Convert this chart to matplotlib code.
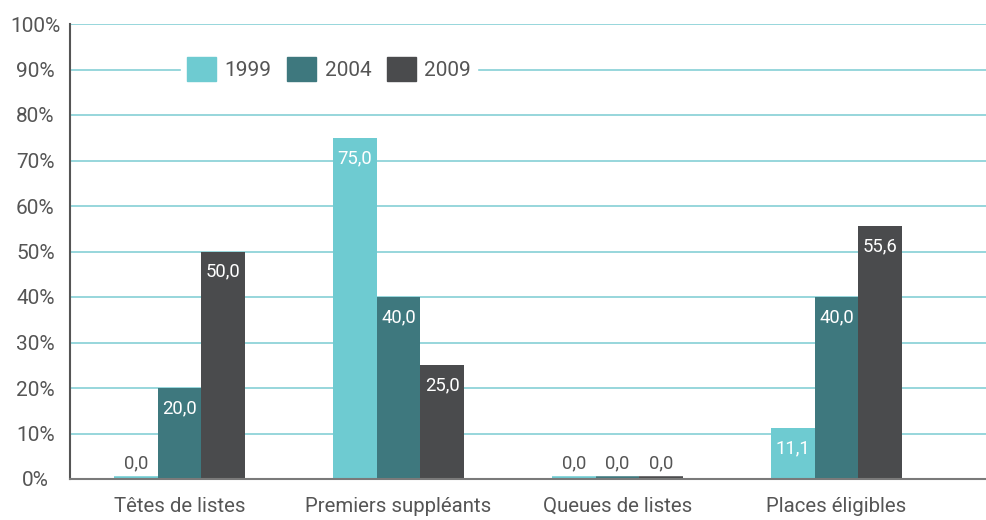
import numpy as np
import matplotlib.pyplot as plt
import matplotlib.patches as mpatches

plt.rcParams['font.family'] = ['Roboto', 'DejaVu Sans']

categories = ['Têtes de listes', 'Premiers suppléants', 'Queues de listes', 'Places éligibles']
years = ['1999', '2004', '2009']
share_1999 = [0.0, 75.0, 0.0, 11.1]
share_2004 = [20.0, 40.0, 0.0, 40.0]
share_2009 = [50.0, 25.0, 0.0, 55.6]
yticks = [0, 10, 20, 30, 40, 50, 60, 70, 80, 90, 100]

colors = ['#6ecbd1', '#3e787e', '#4a4b4d']
text_grey = '#555555'
grid_color = '#8fd3d9'

fig = plt.figure(figsize=(9.87, 5.2), dpi=100)
ax = fig.add_axes([70 / 987, 41 / 520, 917 / 987, 455 / 520])

x = np.arange(len(categories))
width = 0.2
series = [share_1999, share_2004, share_2009]

for i, (vals, col) in enumerate(zip(series, colors)):
    pos = x + (i - 1) * width
    # empty bars get a thick edge so they still show as a thin strip on the axis
    lws = [4.0 if v == 0 else 0.0 for v in vals]
    ax.bar(pos, vals, width, color=col, edgecolor=col, linewidth=lws, zorder=2)
    for px, v in zip(pos, vals):
        label = f'{v:.1f}'.replace('.', ',')
        if v > 0:
            ax.annotate(label, (px, v), xytext=(0, -8), textcoords='offset points',
                        ha='center', va='top', color='white', fontsize=13.3, zorder=3)
        else:
            ax.annotate(label, (px, v), xytext=(0, 5), textcoords='offset points',
                        ha='center', va='bottom', color=text_grey, fontsize=13.3, zorder=3)

ax.set_xlim(-0.5, 3.5 + 41 / 219)
ax.set_ylim(0, 100)
ax.set_yticks(yticks)
ax.set_yticklabels([f'{t}%' for t in yticks], ha='center')
ax.set_xticks(x)
ax.set_xticklabels(categories)

ax.tick_params(axis='y', length=0, pad=25, labelsize=15, labelcolor=text_grey)
ax.tick_params(axis='x', length=0, pad=13, labelsize=14.7, labelcolor=text_grey)

for t in yticks[1:]:
    ax.axhline(t, color=grid_color, linewidth=1.3, zorder=1)

for side in ['top', 'right']:
    ax.spines[side].set_visible(False)
ax.spines['left'].set_color('#555555')
ax.spines['left'].set_linewidth(1.5)
ax.spines['bottom'].set_color('#7a7a7a')
ax.spines['bottom'].set_linewidth(1.5)
ax.spines['left'].set_zorder(4)
ax.spines['bottom'].set_zorder(4)

handles = [mpatches.Patch(color=c, label=y) for c, y in zip(colors, years)]
leg = ax.legend(handles=handles, ncol=3, loc='center',
                bbox_to_anchor=(329 / 987, 1 - 69 / 520), bbox_transform=fig.transFigure,
                fontsize=15, frameon=True, fancybox=False, framealpha=1,
                edgecolor='white', facecolor='white',
                handlelength=1.4, handleheight=1.4, handletextpad=0.4,
                columnspacing=0.75, borderpad=0.3, borderaxespad=0)
for t in leg.get_texts():
    t.set_color(text_grey)
leg.set_zorder(5)

fig.savefig('out.png', dpi=100)
